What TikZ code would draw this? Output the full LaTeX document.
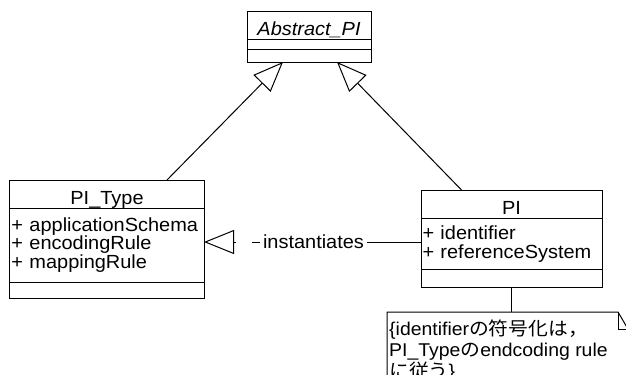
\documentclass[tikz,border=0pt]{standalone}
\usepackage{fontspec}
\setmainfont{Liberation Sans}[FakeStretch=1.05]
\newfontfamily\jpfont{Noto Sans CJK JP}[FakeStretch=1.07]
\usetikzlibrary{positioning,arrows.meta}

\newcommand{\umlfont}{\fontsize{19bp}{18.5bp}\selectfont}

\tikzset{
  classname/.style={draw, line width=1bp, outer sep=0pt, inner xsep=2bp, inner ysep=2bp,
    minimum height=28bp, text height=22bp, text depth=2bp, font=\umlfont},
  classattr/.style={draw, line width=1bp, outer sep=0pt, inner xsep=1.5bp, inner ysep=0pt,
    align=left, font=\umlfont},
  classcomp/.style={draw, line width=1bp, outer sep=0pt, inner sep=0pt},
  inherit/.style={line width=1bp, -{Triangle[open,length=30bp,width=24bp]}},
  linklabel/.style={inner xsep=3bp, inner ysep=0pt, font=\umlfont},
  notetext/.style={inner sep=0pt, align=left, font=\fontsize{18.5bp}{21bp}\selectfont}
}

\begin{document}
\begin{tikzpicture}[x=1bp,y=-1bp]
\clip (0,0) rectangle (626,374);
\fill[white] (0,0) rectangle (626,374);

% Abstract class
\node[classname, minimum width=124bp, font=\umlfont\itshape] (abstract) at (309,25) {Abstract\_PI};
\node[classcomp, minimum width=124bp, minimum height=10bp, below=0pt of abstract] (abstract-attr) {};
\node[classcomp, minimum width=124bp, minimum height=13bp, below=0pt of abstract-attr] (abstract-ops) {};

% PI_Type
\node[classname, minimum width=194bp] (pitype) at (107,194) {PI\_Type};
\node[classattr, text width=191bp, minimum height=74bp, below=0pt of pitype] (pitype-attr)
  {+~applicationSchema\\+~encodingRule\\+~mappingRule};
\node[classcomp, minimum width=194bp, minimum height=16bp, below=0pt of pitype-attr] (pitype-ops) {};

% PI
\node[classname, minimum width=181bp] (pi) at (511.5,204.5) {PI};
\node[classattr, text width=178bp, minimum height=51bp, below=0pt of pi] (pi-attr)
  {+~identifier\\+~referenceSystem};
\node[classcomp, minimum width=181bp, minimum height=18bp, below=0pt of pi-attr] (pi-ops) {};

% generalizations
\draw[inherit] ([xshift=60bp]pitype.north) -- ([xshift=-26bp]abstract-ops.south);
\draw[inherit] ([xshift=-49.5bp]pi.north) -- ([xshift=28bp]abstract-ops.south);

% instantiates
\coordinate (tri-base) at (236,242);
\coordinate (inst-start) at (252,242);
\draw[inherit] (tri-base) -- (pitype-attr.east |- tri-base);
\node[linklabel] (inst) at (313.5,242) {instantiates};
\draw[line width=1bp] (inst-start) -- (inst.west);
\draw[line width=1bp] (inst.east) -- (pi-attr.west |- inst.east);

% note
\coordinate (note-nw) at (387,312);
\coordinate (note-fold) at (618,312);
\draw[line width=1bp] (note-nw) -- (note-fold) -- (628,329) -- (628,400) -- (387,400) -- cycle;
\draw[line width=1bp] (note-fold) |- (628,329);
\draw[line width=1bp] (pi-ops.south) -- (pi-ops.south |- note-nw);
\node[notetext, anchor=north west] (note) at (389,320)
  {\{identifier{\jpfont の符号化は，}\\PI\_Type{\jpfont の}endcoding rule\\{\jpfont に従う}\}};

\end{tikzpicture}
\end{document}
